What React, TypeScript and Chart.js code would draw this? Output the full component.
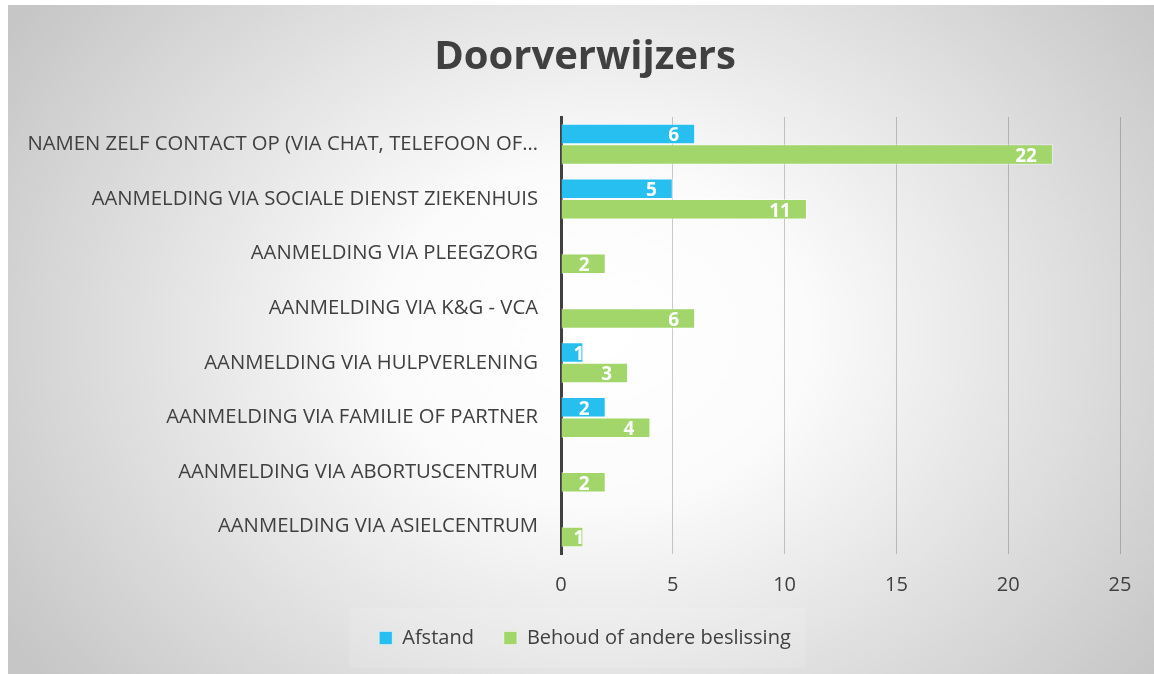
import React, { useEffect, useRef } from 'react';
import { Chart, registerables } from 'chart.js';

Chart.register(...registerables);

const titleText = 'Doorverwijzers';
const categories = [
  'NAMEN ZELF CONTACT OP (VIA CHAT, TELEFOON OF…',
  'AANMELDING VIA SOCIALE DIENST ZIEKENHUIS',
  'AANMELDING VIA PLEEGZORG',
  'AANMELDING VIA K&G - VCA',
  'AANMELDING VIA HULPVERLENING',
  'AANMELDING VIA FAMILIE OF PARTNER',
  'AANMELDING VIA ABORTUSCENTRUM',
  'AANMELDING VIA ASIELCENTRUM',
];
const seriesNames = ['Afstand', 'Behoud of andere beslissing'];
const afstand: (number | null)[] = [6, 5, null, null, 1, 2, null, null];
const behoud: (number | null)[] = [22, 11, 2, 6, 3, 4, 2, 1];
const xMin = 0;
const xMax = 25;
const xStep = 5;

const FONT = '"Open Sans", "DejaVu Sans", sans-serif';
const TEXT = '#404040';

const valueLabels = {
  id: 'valueLabels',
  afterDatasetsDraw(chart: any) {
    const ctx = chart.ctx;
    ctx.save();
    ctx.font = `bold 19px ${FONT}`;
    ctx.fillStyle = '#ffffff';
    ctx.textBaseline = 'middle';
    ctx.textAlign = 'left';
    chart.data.datasets.forEach((ds: any, di: number) => {
      const meta = chart.getDatasetMeta(di);
      meta.data.forEach((bar: any, i: number) => {
        const v = ds.data[i];
        if (v == null) return;
        const { x, y, base } = bar.getProps(['x', 'y', 'base'], true);
        const text = String(v);
        const w = ctx.measureText(text).width;
        const left = Math.max(x - 16 - w, base + 12);
        ctx.fillText(text, left, y + 2);
      });
    });
    ctx.restore();
  },
};

const legendBg = {
  id: 'legendBg',
  beforeDraw(chart: any) {
    const lg = chart.legend;
    if (!lg || !lg.legendHitBoxes || !lg.legendHitBoxes.length) return;
    const boxes = lg.legendHitBoxes;
    let l = Infinity, r = -Infinity, t = Infinity, b = -Infinity;
    boxes.forEach((h: any) => {
      l = Math.min(l, h.left);
      r = Math.max(r, h.left + h.width);
      t = Math.min(t, h.top);
      b = Math.max(b, h.top + h.height);
    });
    const ctx = chart.ctx;
    ctx.save();
    ctx.fillStyle = 'rgba(255,255,255,0.12)';
    ctx.fillRect(l - 30, t - 20, r - l + 45, b - t + 40);
    ctx.restore();
  },
};

export default function App() {
  const ref = useRef<HTMLCanvasElement>(null);

  useEffect(() => {
    if (!ref.current) return;
    const chart = new Chart(ref.current, {
      type: 'bar',
      data: {
        labels: categories,
        datasets: [
          {
            label: seriesNames[0],
            data: afstand,
            xAxisID: 'x',
            yAxisID: 'y',
            backgroundColor: '#27BEF0',
            borderColor: 'rgba(255,255,255,0.45)',
            borderWidth: 1,
            categoryPercentage: 0.75,
            barPercentage: 1,
          },
          {
            label: seriesNames[1],
            data: behoud,
            xAxisID: 'x',
            yAxisID: 'y',
            backgroundColor: '#A2D66B',
            borderColor: 'rgba(255,255,255,0.45)',
            borderWidth: 1,
            categoryPercentage: 0.75,
            barPercentage: 1,
          },
        ],
      },
      options: {
        indexAxis: 'y',
        animation: false,
        responsive: true,
        maintainAspectRatio: false,
        layout: { padding: { left: 16, right: 8, top: 0, bottom: 16 } },
        scales: {
          x: {
            min: xMin,
            max: xMax,
            ticks: { stepSize: xStep, color: TEXT, font: { family: FONT, size: 20 }, padding: 19 },
            grid: { color: 'rgba(0,0,0,0.2)', drawTicks: false, lineWidth: 1 },
            border: { display: false },
            afterFit: (s: any) => { s.height = 44; },
          },
          y: {
            position: 'left',
            ticks: { color: TEXT, font: { family: FONT, size: 20.3 }, padding: 23, autoSkip: false },
            grid: { display: false, drawTicks: false },
            border: { display: true, color: '#404040', width: 3 },
            afterFit: (s: any) => { s.width = 537; },
          },
          yRight: {
            type: 'category',
            axis: 'y',
            position: 'right',
            labels: categories,
            ticks: { display: false },
            grid: { display: false, drawTicks: false },
            border: { display: false },
            afterFit: (s: any) => { s.width = 26; },
          },
        },
        plugins: {
          title: {
            display: true,
            text: titleText,
            color: TEXT,
            font: { family: FONT, size: 40, weight: 'bold' },
            padding: { top: 29, bottom: 35 },
          },
          legend: {
            position: 'bottom',
            maxHeight: 60,
            labels: {
              boxWidth: 13,
              boxHeight: 13,
              padding: 30,
              color: TEXT,
              font: { family: FONT, size: 20 },
            },
          },
          tooltip: { enabled: false },
        },
      },
      plugins: [valueLabels, legendBg],
    });
    return () => chart.destroy();
  }, []);

  return (
    <div
      style={{
        position: 'absolute',
        left: 8,
        top: 5,
        width: 1146,
        height: 669,
        background:
          'radial-gradient(ellipse 700px 560px at 590px 330px, #ffffff 0%, #fbfbfb 30%, #c6c6c6 100%)',
      }}
    >
      <canvas ref={ref} />
    </div>
  );
}
